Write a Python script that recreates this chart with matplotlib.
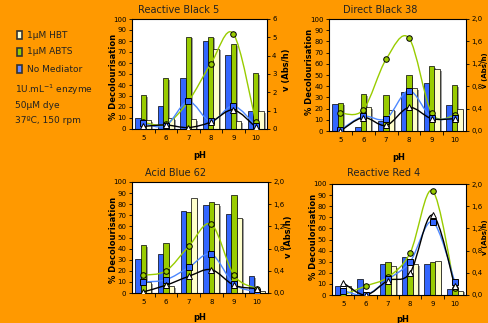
import matplotlib
matplotlib.use('Agg')
import matplotlib.pyplot as plt
import matplotlib.patheffects as pe
from matplotlib.path import Path
from matplotlib.patches import PathPatch, Rectangle

ph = ['5', '6', '7', '8', '9', '10']
titles = ['Reactive Black 5', 'Direct Black 38', 'Acid Blue 62', 'Reactive Red 4']

# % decolourisation bars
bar_none = [[10, 21, 46, 80, 67, 16],
            [24, 4, 9, 35, 43, 23],
            [31, 35, 74, 79, 71, 15],
            [8, 14, 28, 34, 28, 5]]
bar_abts = [[31, 46, 84, 84, 77, 51],
            [25, 33, 32, 50, 58, 41],
            [43, 45, 73, 82, 88, 0],
            [1, 0, 30, 20, 30, 6]]
bar_hbt = [[8, 10, 9, 73, 7, 16],
           [0, 21, 19, 38, 55, 20],
           [10, 6, 86, 80, 68, 2],
           [8, 0, 26, 28, 31, 4]]

# v (Abs/h) lines
v_abts = [[0.36, 0.27, 1.5, 3.55, 5.2, 0.4],
          [0.32, 0.38, 1.28, 1.66, 0.32, 0.28],
          [0.32, 0.40, 0.84, 1.24, 0.32, 0.08],
          [0.0, 0.16, 0.32, 0.76, 1.88, 0.12]]
v_none = [[0.3, 0.18, 1.5, 0.42, 1.26, 0.18],
          [0.02, 0.26, 0.22, 0.72, 0.24, 0.24],
          [0.20, 0.24, 0.46, 0.70, 0.16, 0.02],
          [0.08, 0.0, 0.28, 0.60, 1.32, 0.24]]
v_hbt = [[0.14, 0.22, 0.08, 0.38, 1.04, 0.1],
         [0.0, 0.24, 0.10, 0.42, 0.22, 0.22],
         [0.02, 0.14, 0.30, 0.42, 0.14, 0.08],
         [0.22, 0.0, 0.26, 0.40, 1.44, 0.16]]

v_max = [6, 2.0, 2.0, 2.0]

ORANGE = '#FF9900'
BLUE = '#3366FF'
GREEN = '#99CC00'
CREAM = '#FFFFCC'

W, H = 488, 323
fig = plt.figure(figsize=(W / 100, H / 100), dpi=100, facecolor=ORANGE)

boxes = [(132, 267, 19, 129), (329, 466, 19, 131),
         (132, 268, 182, 293), (332, 466, 184, 295)]


def smooth(ax, xs, ys, color, marker, mfc):
    verts = [(xs[0], ys[0])]
    codes = [Path.MOVETO]
    n = len(xs)
    for i in range(n - 1):
        x0, y0 = xs[max(i - 1, 0)], ys[max(i - 1, 0)]
        x1, y1 = xs[i], ys[i]
        x2, y2 = xs[i + 1], ys[i + 1]
        x3, y3 = xs[min(i + 2, n - 1)], ys[min(i + 2, n - 1)]
        verts += [(x1 + (x2 - x0) / 6, y1 + (y2 - y0) / 6),
                  (x2 - (x3 - x1) / 6, y2 - (y3 - y1) / 6),
                  (x2, y2)]
        codes += [Path.CURVE4] * 3
    ax.add_patch(PathPatch(Path(verts, codes), fill=False, edgecolor=color, lw=1.0, zorder=3))
    ax.plot(xs, ys, ls='none', marker=marker, ms=4, mfc=mfc, mec='black', mew=0.7, zorder=4)


shadow = [pe.SimplePatchShadow(offset=(1.2, -1.2), shadow_rgbFace='#777777', alpha=0.7), pe.Normal()]

for k in range(4):
    l, r, t, b = boxes[k]
    ax = fig.add_axes([l / W, (H - b) / H, (r - l) / W, (b - t) / H])
    ax.set_facecolor('white')
    x = list(range(len(ph)))
    w = 0.24
    for off, vals, col in [(-w, bar_none[k], BLUE), (0, bar_abts[k], GREEN), (w, bar_hbt[k], CREAM)]:
        bars = ax.bar([i + off for i in x], vals, width=w, color=col, edgecolor='black', lw=0.5, zorder=2)
        for p in bars:
            p.set_path_effects(shadow)
    ax.set_xlim(-0.5, 5.5)
    ax.set_ylim(0, 100)
    ax.set_yticks(range(0, 101, 10))
    ax.set_xticks([i + 0.5 for i in x[:-1]])
    ax.set_xticklabels([])
    ax.set_xticks(x, minor=True)
    ax.set_xticklabels(ph, minor=True)
    ax.tick_params(axis='x', which='major', length=3, width=0.6, direction='out')
    ax.tick_params(axis='x', which='minor', length=0, labelsize=5, pad=4)
    ax.tick_params(axis='y', length=2.5, width=0.6, labelsize=5, pad=1.5)
    for s in ax.spines.values():
        s.set_linewidth(0.7)

    ax2 = ax.twinx()
    ax2.set_ylim(0, v_max[k])
    if k == 0:
        ax2.set_yticks(range(0, 7))
        ax2.set_yticklabels([str(v) for v in range(0, 7)])
    else:
        tv = [0.0, 0.4, 0.8, 1.2, 1.6, 2.0]
        ax2.set_yticks(tv)
        ax2.set_yticklabels([('%.1f' % v).replace('.', ',') for v in tv])
    ax2.tick_params(axis='y', length=2.5, width=0.6, labelsize=5, pad=1.2)

    smooth(ax2, x, v_abts[k], GREEN, 'o', GREEN)
    smooth(ax2, x, v_none[k], '#4D88FF', 's', BLUE)
    smooth(ax2, x, v_hbt[k], 'black', '^', 'white')

# titles and axis labels
title_pos = [(138, 10), (343, 10), (145, 173), (347, 173)]
for (tx, ty), s in zip(title_pos, titles):
    fig.text(tx / W, 1 - ty / H, s, fontsize=7, ha='left', va='center', color='#222222')

for tx, ty in [(200, 155), (399, 157), (200, 317), (403, 319)]:
    fig.text(tx / W, 1 - ty / H, 'pH', fontsize=6, fontweight='bold', ha='center', va='center')

for tx, ty, s in [(113, 77, '% Decolourisation'), (309, 72, '% Decolourisation'),
                  (113, 240, '% Decolourisation'), (313, 237, '% Decoulorisation'),
                  (286, 70, 'v (Abs/h)'), (288, 237, 'v (Abs/h)')]:
    fig.text(tx / W, 1 - ty / H, s, fontsize=6, fontweight='bold', rotation=90,
             ha='center', va='center')

for ty in [70, 237]:
    fig.text(484.5 / W, 1 - ty / H, 'v (Abs/h)', fontsize=5, fontweight='bold', rotation=90,
             ha='center', va='center')

# legend
for ly, col, s in [(35, CREAM, '1μM HBT'), (52, GREEN, '1μM ABTS'), (69, '#6688FF', 'No Mediator')]:
    fig.add_artist(Rectangle((17 / W, 1 - (ly + 3.5) / H), 5 / W, 7 / H, transform=fig.transFigure,
                             facecolor=col, edgecolor='#333333', lw=1.2))
    fig.text(27 / W, 1 - ly / H, s, fontsize=6.5, ha='left', va='center', color='#222222')

for ly, s in [(90, '1U.mL$^{-1}$ enzyme'), (105, '50μM dye'), (120, '37ºC, 150 rpm')]:
    fig.text(15 / W, 1 - ly / H, s, fontsize=6.5, ha='left', va='center', color='#222222')

fig.savefig('out.png', dpi=100, facecolor=ORANGE)
